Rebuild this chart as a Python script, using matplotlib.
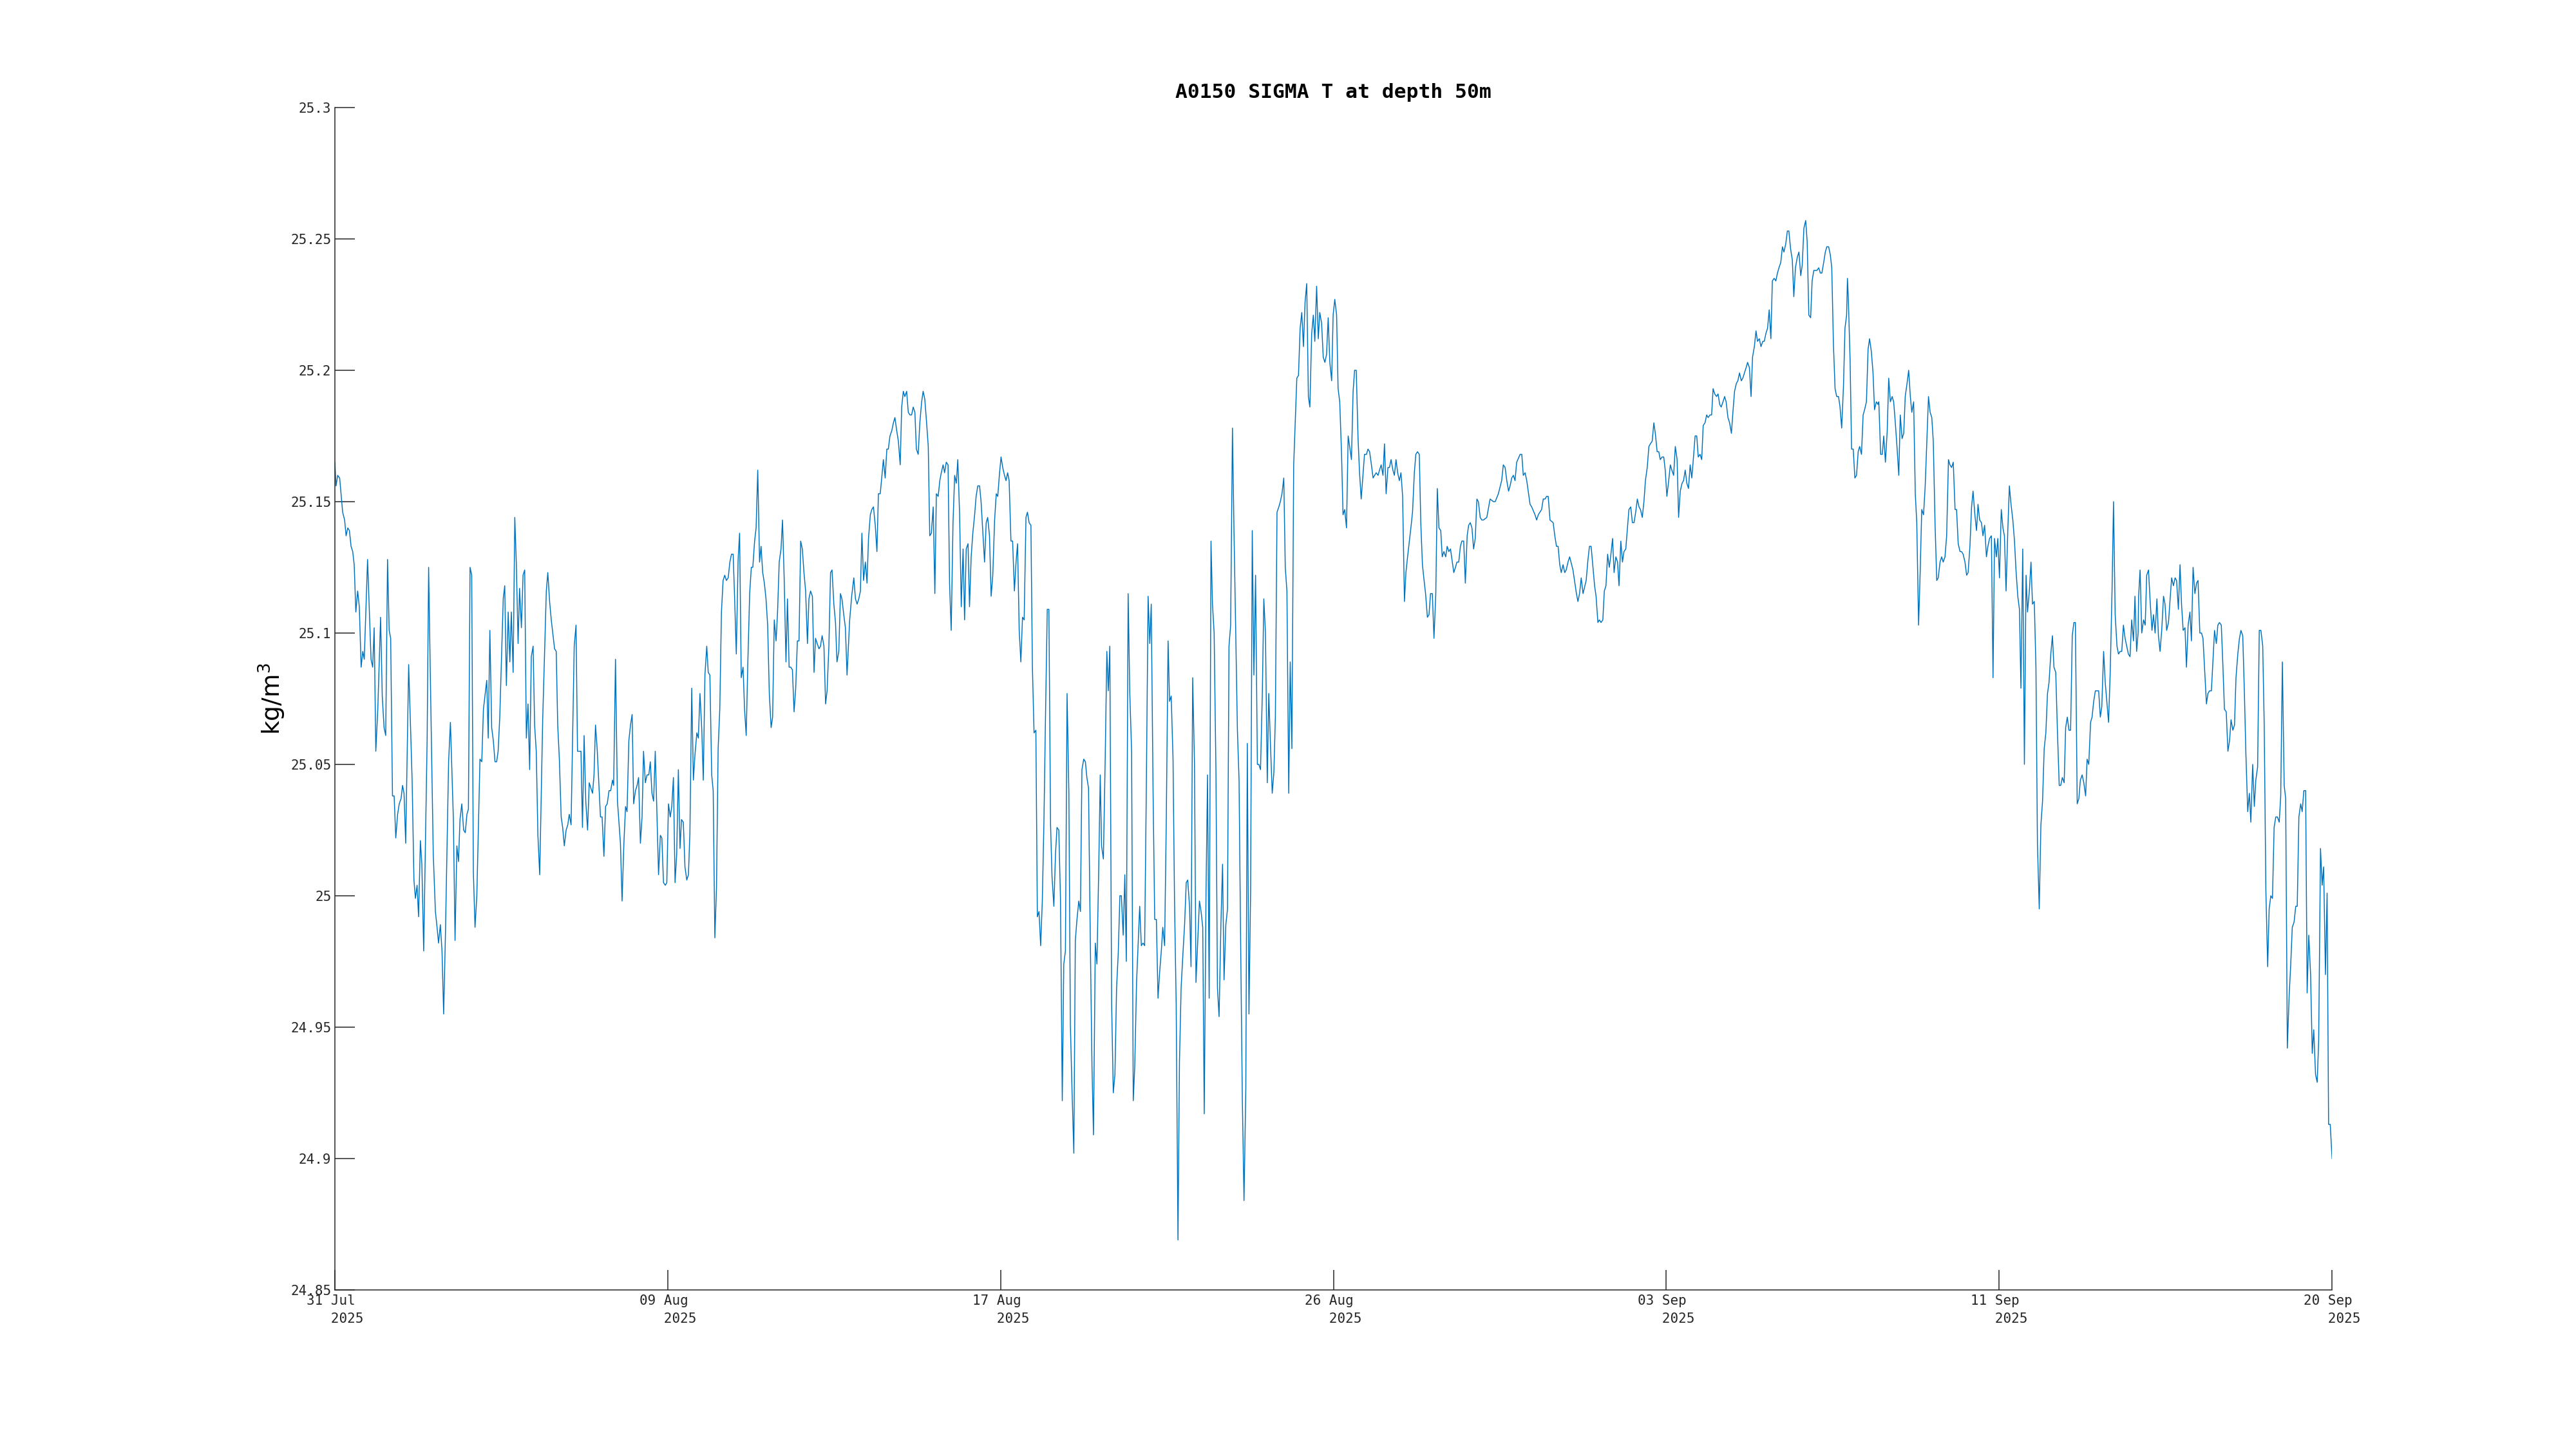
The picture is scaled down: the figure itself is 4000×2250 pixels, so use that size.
import numpy as np
import matplotlib.pyplot as plt
import matplotlib.dates as mdates
from matplotlib.ticker import FixedLocator, FixedFormatter

# sigma-t at 50 m
# (hours since the first sample, kg/m^3)
start_time = np.datetime64('2025-07-31T21:00')
record_hours = 1210

part1 = [(0.0, 25.165), (0.7, 25.156), (1.7, 25.160), (2.9, 25.159), (3.6, 25.154), (4.7, 25.146),
         (5.9, 25.143), (6.8, 25.137), (7.8, 25.140), (8.8, 25.139), (9.8, 25.133), (10.8, 25.131),
         (11.7, 25.126), (12.7, 25.108), (13.8, 25.116), (14.8, 25.110), (15.9, 25.087), (16.9, 25.093),
         (17.8, 25.090), (19.8, 25.128), (20.8, 25.110), (21.9, 25.090), (22.9, 25.087), (23.8, 25.102),
         (24.8, 25.055), (26.0, 25.071), (27.7, 25.106), (28.7, 25.076), (29.8, 25.064), (30.8, 25.061),
         (31.9, 25.128), (32.9, 25.101), (33.8, 25.098), (34.9, 25.038), (35.9, 25.038), (36.9, 25.022),
         (38.0, 25.031), (39.0, 25.035), (40.1, 25.037), (41.0, 25.042), (41.9, 25.039), (42.9, 25.020),
         (44.7, 25.088), (46.8, 25.044), (47.9, 25.006), (48.8, 24.999), (49.8, 25.004), (50.7, 24.992),
         (51.8, 25.021), (52.7, 25.012), (53.8, 24.979), (55.9, 25.060), (56.8, 25.125), (57.9, 25.081),
         (59.6, 25.016), (60.9, 24.994), (61.9, 24.988), (62.8, 24.982), (63.9, 24.989), (64.9, 24.979),
         (65.9, 24.955), (67.0, 24.986), (68.9, 25.051), (70.0, 25.066), (71.8, 25.029), (72.8, 24.983),
         (73.9, 25.019), (74.9, 25.013), (75.8, 25.029), (76.9, 25.035), (78.0, 25.025), (79.0, 25.024),
         (80.0, 25.031), (80.9, 25.033), (81.9, 25.125), (82.9, 25.122), (83.9, 25.009), (84.9, 24.988),
         (86.0, 25.000), (87.9, 25.052), (89.0, 25.051), (90.0, 25.071), (92.0, 25.082), (92.9, 25.060),
         (93.9, 25.101), (95.0, 25.064), (96.0, 25.059), (97.0, 25.051), (98.0, 25.051), (98.9, 25.055),
         (99.9, 25.068), (101.0, 25.092), (102.0, 25.113), (102.9, 25.118), (103.9, 25.080), (105.0, 25.108),
         (106.0, 25.089), (106.9, 25.108), (108.0, 25.085), (109.0, 25.144), (109.9, 25.127), (111.0, 25.096),
         (111.9, 25.117), (113.0, 25.102), (114.0, 25.122), (115.0, 25.124), (116.0, 25.060), (117.0, 25.073),
         (118.0, 25.048), (119.0, 25.091), (120.1, 25.095), (121.0, 25.065), (122.0, 25.055), (123.0, 25.023),
         (124.1, 25.008), (125.9, 25.067), (128.1, 25.116), (129.0, 25.123), (130.1, 25.112), (131.1, 25.105),
         (133.1, 25.094), (134.1, 25.093), (135.0, 25.065), (136.0, 25.052), (137.1, 25.030), (138.0, 25.026),
         (139.0, 25.019), (140.1, 25.025), (141.1, 25.027), (142.0, 25.031), (143.1, 25.027), (145.0, 25.095),
         (146.1, 25.103), (147.0, 25.055), (148.0, 25.055), (149.1, 25.055), (150.0, 25.026), (151.0, 25.061),
         (152.0, 25.036), (153.1, 25.025), (154.1, 25.043)]

part2 = [(156.1, 25.039), (157.0, 25.046), (157.9, 25.065), (158.9, 25.056), (160.9, 25.030), (161.9, 25.030),
         (163.0, 25.015), (164.0, 25.034), (165.0, 25.035), (166.1, 25.040), (167.1, 25.040), (168.2, 25.044),
         (168.9, 25.042), (170.0, 25.090), (171.2, 25.036), (173.0, 25.020), (174.0, 24.998), (175.1, 25.020),
         (176.1, 25.034), (177.0, 25.032), (178.1, 25.059), (179.1, 25.065), (180.1, 25.069), (181.0, 25.035),
         (182.1, 25.040), (183.1, 25.042), (184.0, 25.045), (185.1, 25.020), (186.1, 25.030), (187.0, 25.055),
         (188.1, 25.043), (189.1, 25.046), (190.2, 25.046), (191.1, 25.051), (192.1, 25.039), (193.1, 25.036),
         (194.1, 25.055), (195.1, 25.031), (196.1, 25.008), (197.2, 25.023), (198.1, 25.022), (199.1, 25.005),
         (200.2, 25.004), (201.1, 25.005), (202.1, 25.035), (203.2, 25.030), (204.1, 25.034), (205.1, 25.045),
         (206.1, 25.005), (207.1, 25.016), (208.1, 25.048), (209.1, 25.018), (210.0, 25.029), (211.1, 25.028),
         (212.1, 25.011), (213.2, 25.006), (214.2, 25.008), (215.1, 25.024), (216.2, 25.079), (217.2, 25.044),
         (218.2, 25.054), (219.3, 25.062), (220.2, 25.060), (221.2, 25.077), (222.3, 25.063), (223.2, 25.044),
         (224.2, 25.084), (225.3, 25.095), (226.2, 25.085), (227.2, 25.084), (228.3, 25.046), (229.2, 25.040),
         (230.2, 24.984), (231.2, 25.003), (232.2, 25.056), (233.2, 25.071), (234.2, 25.108), (235.2, 25.120),
         (236.2, 25.122), (237.2, 25.120), (238.3, 25.121), (239.3, 25.127), (240.3, 25.130), (241.3, 25.130),
         (242.2, 25.113), (243.2, 25.092), (244.3, 25.128), (245.2, 25.138), (246.2, 25.083), (247.3, 25.087),
         (248.2, 25.071), (249.2, 25.061), (250.2, 25.089), (251.3, 25.115), (252.3, 25.125), (253.2, 25.125),
         (254.3, 25.135), (255.2, 25.140), (256.2, 25.162), (257.3, 25.127), (258.2, 25.133), (259.2, 25.123),
         (260.2, 25.119), (261.2, 25.113), (262.2, 25.103), (263.2, 25.077), (264.3, 25.064), (265.2, 25.068),
         (266.2, 25.105), (267.3, 25.097), (268.2, 25.108), (269.2, 25.127), (270.3, 25.132), (271.2, 25.143),
         (272.2, 25.121), (273.3, 25.089), (274.2, 25.113), (275.2, 25.087), (276.2, 25.087), (277.2, 25.086),
         (278.2, 25.070), (279.2, 25.079), (280.2, 25.097), (281.2, 25.097), (282.2, 25.135), (283.2, 25.132),
         (284.2, 25.123), (285.2, 25.116), (286.3, 25.096), (287.2, 25.113), (288.2, 25.116), (289.3, 25.114),
         (290.3, 25.085), (291.2, 25.098), (292.2, 25.096), (293.3, 25.094), (294.2, 25.095), (295.2, 25.099),
         (296.3, 25.095), (297.3, 25.073), (298.2, 25.078), (299.3, 25.095), (300.3, 25.123), (301.2, 25.124),
         (302.3, 25.111), (303.3, 25.104), (304.2, 25.089), (305.3, 25.093), (306.3, 25.115), (307.2, 25.113),
         (308.3, 25.107), (309.3, 25.102), (310.3, 25.084), (311.9, 25.105)]

part3 = [(313.1, 25.114), (314.4, 25.121), (315.4, 25.113), (316.4, 25.111), (317.4, 25.113), (318.4, 25.116),
         (319.3, 25.138), (320.3, 25.120), (321.4, 25.127), (322.4, 25.119), (323.3, 25.136), (324.4, 25.145),
         (325.3, 25.147), (326.3, 25.148), (327.4, 25.141), (328.4, 25.131), (329.3, 25.153), (330.4, 25.153),
         (331.3, 25.159), (332.3, 25.166), (333.4, 25.159), (334.4, 25.170), (335.3, 25.170), (336.3, 25.175),
         (337.4, 25.177), (338.4, 25.180), (339.3, 25.182), (340.4, 25.177), (341.4, 25.173), (342.5, 25.164),
         (343.4, 25.186), (344.4, 25.192), (345.3, 25.190), (346.4, 25.192), (347.4, 25.184), (348.4, 25.183),
         (349.4, 25.183), (350.4, 25.186), (351.4, 25.184), (352.3, 25.170), (353.4, 25.168), (354.4, 25.180),
         (355.5, 25.188), (356.4, 25.192), (357.4, 25.189), (358.5, 25.180), (359.5, 25.171), (360.4, 25.137),
         (361.4, 25.138), (362.5, 25.148), (363.5, 25.115), (364.4, 25.153), (365.5, 25.152), (366.5, 25.158),
         (367.4, 25.161), (368.5, 25.164), (369.4, 25.161), (370.4, 25.165), (371.5, 25.164), (372.4, 25.119),
         (373.4, 25.101), (374.5, 25.142), (375.5, 25.160), (376.5, 25.157), (377.4, 25.166), (378.5, 25.145),
         (379.5, 25.110), (380.6, 25.132), (381.5, 25.105), (382.5, 25.132), (383.6, 25.134), (384.5, 25.110),
         (385.5, 25.129), (386.5, 25.138), (387.6, 25.145), (388.5, 25.152), (389.5, 25.156), (390.6, 25.156),
         (391.5, 25.150), (392.5, 25.139), (393.6, 25.127), (394.6, 25.142), (395.5, 25.144), (396.6, 25.137),
         (397.6, 25.114), (398.6, 25.122), (399.7, 25.143), (400.7, 25.153), (401.6, 25.152), (402.7, 25.161),
         (403.6, 25.167), (404.6, 25.163), (405.7, 25.160), (406.6, 25.158), (407.6, 25.161), (408.5, 25.158),
         (409.6, 25.135), (410.6, 25.135), (411.7, 25.116), (412.7, 25.127), (413.6, 25.134), (414.6, 25.101),
         (415.6, 25.089), (416.6, 25.106), (417.6, 25.105), (418.7, 25.144), (419.6, 25.146), (420.6, 25.142),
         (421.7, 25.141), (422.6, 25.087), (423.6, 25.062), (424.7, 25.063), (425.6, 24.992), (426.6, 24.994),
         (427.6, 24.981), (428.6, 24.998), (429.6, 25.029), (430.6, 25.071), (431.6, 25.109), (432.6, 25.109),
         (433.6, 25.027), (434.5, 25.007), (435.6, 24.996), (436.6, 25.016), (437.5, 25.026), (438.6, 25.025),
         (439.6, 24.999), (440.7, 24.922), (441.6, 24.974), (442.6, 24.979), (443.6, 25.077), (444.7, 25.039),
         (445.6, 24.951), (446.6, 24.926), (447.7, 24.902), (448.6, 24.983), (449.6, 24.991), (450.7, 24.998),
         (451.7, 24.994), (452.6, 25.048), (453.7, 25.052), (454.7, 25.051), (455.6, 25.045), (456.6, 25.041),
         (457.7, 24.982), (458.7, 24.935), (459.6, 24.909), (460.7, 24.982), (461.7, 24.974), (462.8, 25.011),
         (463.7, 25.046), (464.5, 25.019), (465.6, 25.014), (466.7, 25.052), (467.7, 25.093)]

part4 = [(468.6, 25.078), (469.5, 25.095), (470.6, 24.959), (471.6, 24.925), (472.6, 24.932), (473.6, 24.965),
         (474.6, 24.978), (475.6, 25.000), (476.5, 25.000), (477.6, 24.985), (478.6, 25.008), (479.5, 24.975),
         (480.6, 25.115), (481.6, 25.077), (482.7, 25.055), (483.7, 24.922), (484.6, 24.935), (485.7, 24.967),
         (487.6, 24.996), (488.6, 24.981), (489.6, 24.982), (490.6, 24.981), (491.6, 25.040), (492.7, 25.114),
         (493.7, 25.096), (494.6, 25.111), (495.7, 25.040), (496.7, 24.991), (497.7, 24.991), (498.7, 24.961),
         (499.7, 24.971), (500.7, 24.979), (501.6, 24.988), (502.7, 24.981), (503.7, 25.028), (504.8, 25.097),
         (505.7, 25.074), (506.7, 25.076), (507.8, 25.052), (508.7, 24.998), (509.7, 24.959), (510.8, 24.869),
         (511.7, 24.937), (512.7, 24.965), (513.8, 24.978), (514.8, 24.989), (515.8, 25.005), (516.7, 25.006),
         (517.8, 24.996), (518.7, 24.973), (519.7, 25.083), (520.8, 25.050), (521.7, 24.967), (522.7, 24.982),
         (523.8, 24.998), (524.8, 24.994), (525.8, 24.988), (526.7, 24.917), (527.8, 25.002), (528.7, 25.046),
         (529.7, 24.961), (530.8, 25.135), (531.7, 25.111), (532.7, 25.100), (533.8, 25.047), (534.7, 24.965),
         (535.7, 24.954), (536.8, 24.989), (537.8, 25.012), (538.7, 24.968), (539.8, 24.989), (540.8, 24.995),
         (541.7, 25.095), (542.7, 25.103), (543.8, 25.178), (544.7, 25.140), (545.7, 25.103), (546.8, 25.063),
         (547.8, 25.044), (548.7, 24.986), (549.8, 24.922), (550.8, 24.884), (551.9, 24.927), (552.8, 25.058),
         (553.8, 24.955), (554.8, 25.002), (555.8, 25.139), (556.8, 25.084), (557.8, 25.122), (558.9, 25.050),
         (559.8, 25.050), (560.8, 25.048), (561.9, 25.077), (562.8, 25.113), (563.8, 25.100), (564.9, 25.043),
         (565.8, 25.077), (566.8, 25.058), (567.9, 25.039), (568.9, 25.047), (569.8, 25.068), (570.8, 25.146),
         (571.9, 25.148), (572.8, 25.150), (573.8, 25.153), (574.9, 25.159), (575.8, 25.125), (576.8, 25.116),
         (577.9, 25.039), (578.8, 25.089), (579.8, 25.056), (580.9, 25.164), (581.9, 25.181), (582.8, 25.197),
         (583.8, 25.198), (584.8, 25.216), (585.8, 25.222), (586.8, 25.209), (587.8, 25.226), (588.8, 25.233),
         (589.8, 25.190), (590.7, 25.186), (591.8, 25.214), (592.8, 25.221), (593.7, 25.211), (594.8, 25.232),
         (595.8, 25.212), (596.7, 25.222), (597.8, 25.218), (598.8, 25.205), (599.8, 25.203), (600.8, 25.206),
         (601.8, 25.220), (602.8, 25.203), (603.9, 25.196), (604.8, 25.221), (605.8, 25.227), (606.9, 25.221),
         (607.8, 25.193), (608.8, 25.188), (609.9, 25.168), (610.8, 25.145), (611.8, 25.147), (612.9, 25.140),
         (613.9, 25.175), (615.9, 25.166), (616.9, 25.192), (617.8, 25.200), (618.8, 25.200), (619.9, 25.174),
         (620.8, 25.161), (621.8, 25.151), (623.8, 25.168)]

part5 = [(625.0, 25.168), (625.9, 25.170), (626.9, 25.169), (628.0, 25.164), (629.0, 25.159), (629.9, 25.160),
         (630.9, 25.161), (632.0, 25.160), (632.9, 25.162), (633.9, 25.164), (635.0, 25.160), (635.9, 25.172),
         (636.9, 25.153), (638.0, 25.163), (638.9, 25.163), (639.9, 25.166), (641.0, 25.162), (641.9, 25.160),
         (642.9, 25.166), (643.9, 25.161), (644.9, 25.158), (645.9, 25.161), (646.9, 25.152), (648.0, 25.112),
         (648.9, 25.123), (649.9, 25.129), (651.0, 25.135), (651.9, 25.140), (652.9, 25.146), (654.0, 25.161),
         (654.9, 25.168), (655.9, 25.169), (657.0, 25.168), (657.9, 25.142), (658.9, 25.126), (659.9, 25.120),
         (660.8, 25.115), (661.9, 25.106), (662.9, 25.107), (663.8, 25.115), (664.9, 25.115), (665.9, 25.098),
         (667.0, 25.115), (667.9, 25.155), (668.9, 25.140), (670.0, 25.139), (670.9, 25.129), (671.9, 25.131),
         (673.0, 25.129), (673.9, 25.133), (674.9, 25.131), (675.9, 25.132), (676.8, 25.128), (677.9, 25.123),
         (678.9, 25.125), (679.8, 25.127), (680.9, 25.127), (681.9, 25.133), (682.8, 25.135), (683.9, 25.135),
         (684.9, 25.119), (686.0, 25.137), (686.9, 25.141), (687.9, 25.142), (688.9, 25.140), (689.9, 25.132),
         (690.9, 25.136), (691.9, 25.151), (692.8, 25.150), (693.9, 25.144), (694.9, 25.143), (695.8, 25.143),
         (697.9, 25.144), (699.9, 25.151), (701.9, 25.150), (703.0, 25.150), (704.9, 25.153), (706.9, 25.158),
         (707.9, 25.164), (709.0, 25.163), (710.0, 25.158), (711.1, 25.154), (712.0, 25.156), (713.0, 25.159),
         (714.0, 25.160), (715.0, 25.158), (716.0, 25.165), (718.1, 25.168), (719.1, 25.168), (720.0, 25.160),
         (721.1, 25.161), (722.1, 25.158), (723.0, 25.154), (724.1, 25.149), (725.1, 25.148), (727.1, 25.145),
         (728.1, 25.143), (729.1, 25.145), (731.1, 25.147), (732.1, 25.151), (733.2, 25.151), (734.1, 25.152),
         (735.1, 25.152), (736.2, 25.143), (738.1, 25.142), (739.1, 25.137), (740.1, 25.133), (741.1, 25.133),
         (742.1, 25.126), (743.0, 25.123), (744.1, 25.126), (745.1, 25.123), (746.0, 25.124), (747.1, 25.127),
         (748.1, 25.129), (750.1, 25.124), (752.2, 25.115), (753.1, 25.112), (754.1, 25.115), (755.1, 25.121),
         (756.2, 25.115), (758.1, 25.120), (759.2, 25.128), (760.1, 25.133), (761.1, 25.133), (763.2, 25.118),
         (764.1, 25.114), (765.2, 25.104), (766.1, 25.105), (767.1, 25.104), (768.2, 25.105), (769.1, 25.116),
         (770.1, 25.118), (771.1, 25.130), (772.1, 25.125), (773.1, 25.130), (774.1, 25.136), (775.0, 25.123),
         (776.1, 25.129), (777.1, 25.127), (778.0, 25.118), (779.1, 25.135), (780.1, 25.127)]

part6 = [(781.0, 25.131), (782.1, 25.132), (783.1, 25.140), (784.0, 25.147), (785.1, 25.148), (786.1, 25.142),
         (787.1, 25.142), (788.1, 25.146), (789.1, 25.151), (790.1, 25.148), (791.0, 25.147), (792.1, 25.144),
         (793.1, 25.150), (794.0, 25.158), (795.1, 25.163), (796.1, 25.171), (797.0, 25.172), (798.1, 25.173),
         (799.1, 25.180), (800.0, 25.176), (801.1, 25.169), (802.1, 25.169), (803.0, 25.166), (804.1, 25.167),
         (805.1, 25.167), (806.0, 25.162), (807.0, 25.152), (808.1, 25.158), (809.1, 25.164), (810.0, 25.162),
         (811.1, 25.160), (812.1, 25.171), (813.2, 25.166), (814.1, 25.144), (815.1, 25.154), (816.2, 25.157),
         (817.1, 25.158), (818.1, 25.162), (819.1, 25.157), (820.1, 25.155), (821.1, 25.164), (822.1, 25.159),
         (823.0, 25.166), (824.1, 25.175), (825.1, 25.175), (826.0, 25.167), (827.1, 25.168), (828.1, 25.166),
         (829.0, 25.179), (830.1, 25.180), (831.1, 25.183), (832.0, 25.182), (833.1, 25.183), (834.1, 25.183),
         (835.0, 25.193), (836.0, 25.191), (837.1, 25.190), (838.0, 25.191), (839.0, 25.187), (839.9, 25.186),
         (841.0, 25.188), (842.0, 25.190), (842.9, 25.188), (844.0, 25.182), (845.0, 25.180), (846.1, 25.176),
         (847.0, 25.184), (848.0, 25.192), (849.1, 25.195), (850.0, 25.196), (851.0, 25.199), (852.1, 25.196),
         (853.0, 25.197), (854.0, 25.199), (855.0, 25.201), (855.9, 25.203), (857.0, 25.201), (858.0, 25.190),
         (858.9, 25.205), (860.0, 25.209), (861.0, 25.215), (861.9, 25.211), (863.0, 25.212), (864.0, 25.209),
         (865.1, 25.211), (866.0, 25.211), (867.0, 25.214), (868.0, 25.216), (869.0, 25.223), (870.0, 25.212),
         (870.9, 25.234), (872.0, 25.235), (873.0, 25.234), (874.0, 25.237), (874.9, 25.239), (876.0, 25.241),
         (877.0, 25.247), (877.9, 25.245), (879.0, 25.248), (880.0, 25.253), (880.9, 25.253), (882.0, 25.246),
         (883.0, 25.242), (883.9, 25.228), (884.9, 25.239), (886.0, 25.243), (887.0, 25.245), (888.1, 25.236),
         (889.0, 25.240), (890.0, 25.254), (891.1, 25.257), (892.0, 25.249), (893.0, 25.221), (894.1, 25.220),
         (895.0, 25.234), (896.0, 25.238), (897.0, 25.238), (897.9, 25.238), (899.0, 25.239), (900.0, 25.237),
         (900.9, 25.237), (902.0, 25.241), (903.0, 25.245), (903.9, 25.247), (905.0, 25.247), (906.0, 25.244),
         (906.9, 25.239), (907.9, 25.210), (908.9, 25.193), (909.9, 25.190), (911.0, 25.190), (911.9, 25.186),
         (912.9, 25.178), (914.0, 25.194), (914.9, 25.216), (915.9, 25.221), (916.4, 25.235), (916.9, 25.228),
         (918.0, 25.204), (918.9, 25.170), (919.9, 25.170), (920.9, 25.159), (921.9, 25.160), (922.9, 25.169),
         (923.8, 25.171), (924.9, 25.168), (925.9, 25.183), (926.8, 25.185), (927.9, 25.188), (928.9, 25.208),
         (929.8, 25.212), (930.9, 25.207), (931.9, 25.199), (932.8, 25.185), (933.9, 25.188), (934.9, 25.187),
         (935.4, 25.188), (936.5, 25.168)]

part7 = [(937.5, 25.168), (938.4, 25.175), (939.4, 25.165), (940.5, 25.177), (941.4, 25.197), (942.4, 25.188),
         (943.5, 25.190), (944.4, 25.188), (945.4, 25.180), (946.5, 25.170), (947.5, 25.160), (948.4, 25.183),
         (949.5, 25.174), (950.5, 25.176), (951.4, 25.190), (952.5, 25.195), (953.5, 25.200), (954.5, 25.190),
         (955.4, 25.184), (956.5, 25.188), (957.5, 25.153), (958.4, 25.142), (959.5, 25.103), (960.5, 25.124),
         (961.4, 25.147), (962.5, 25.145), (963.5, 25.156), (964.5, 25.173), (965.5, 25.190), (966.5, 25.184),
         (967.5, 25.182), (968.4, 25.173), (969.5, 25.141), (970.5, 25.120), (971.4, 25.121), (972.5, 25.127),
         (973.5, 25.129), (974.4, 25.127), (975.5, 25.129), (976.5, 25.137), (977.6, 25.166), (978.5, 25.164),
         (979.5, 25.163), (980.5, 25.165), (981.6, 25.147), (982.5, 25.147), (983.5, 25.134), (984.6, 25.131),
         (985.5, 25.131), (986.5, 25.130), (987.6, 25.127), (988.6, 25.122), (989.5, 25.123), (990.6, 25.133),
         (991.6, 25.148), (992.5, 25.154), (993.6, 25.145), (994.6, 25.139), (995.5, 25.149), (996.5, 25.143),
         (997.6, 25.142), (998.5, 25.137), (999.5, 25.141), (1000.6, 25.129), (1001.5, 25.133), (1002.5, 25.136),
         (1003.6, 25.137), (1004.6, 25.083), (1005.5, 25.136), (1006.6, 25.129), (1007.5, 25.136), (1008.5, 25.121),
         (1009.6, 25.147), (1010.6, 25.140), (1011.5, 25.137), (1012.5, 25.116), (1013.6, 25.140), (1014.5, 25.156),
         (1015.5, 25.149), (1016.6, 25.143), (1017.6, 25.135), (1018.5, 25.124), (1019.6, 25.114), (1020.6, 25.109),
         (1021.5, 25.079), (1022.6, 25.132), (1023.6, 25.050), (1024.6, 25.122), (1025.5, 25.108), (1026.6, 25.116),
         (1027.6, 25.127), (1028.5, 25.111), (1029.6, 25.112), (1030.6, 25.087), (1031.5, 25.020), (1032.6, 24.995),
         (1033.6, 25.027), (1034.6, 25.036), (1035.6, 25.056), (1036.6, 25.062), (1037.6, 25.077), (1038.5, 25.081),
         (1039.6, 25.092), (1040.6, 25.099), (1041.5, 25.087), (1042.6, 25.085), (1043.6, 25.063), (1044.7, 25.042),
         (1045.6, 25.042), (1046.6, 25.045), (1047.7, 25.043), (1048.6, 25.064), (1049.6, 25.068), (1050.6, 25.063),
         (1051.6, 25.063), (1052.6, 25.099), (1053.6, 25.104), (1054.5, 25.104), (1055.6, 25.035), (1056.6, 25.037),
         (1057.5, 25.044), (1058.6, 25.046), (1059.6, 25.043), (1060.7, 25.038), (1061.6, 25.052), (1062.6, 25.050),
         (1063.7, 25.066), (1064.6, 25.068), (1065.6, 25.074), (1066.6, 25.078), (1068.6, 25.078), (1069.6, 25.068),
         (1070.5, 25.072), (1071.6, 25.093), (1072.6, 25.081), (1074.6, 25.066), (1075.6, 25.085), (1076.7, 25.116),
         (1077.6, 25.150), (1078.6, 25.107), (1079.7, 25.095), (1080.6, 25.092), (1081.6, 25.093), (1082.6, 25.093),
         (1083.6, 25.103), (1084.6, 25.098), (1086.6, 25.092), (1087.6, 25.091), (1088.6, 25.105), (1089.7, 25.097),
         (1090.6, 25.114), (1091.6, 25.093), (1092.5, 25.100)]

part8 = [(1092.8, 25.114), (1093.7, 25.124), (1094.7, 25.100), (1095.8, 25.105), (1096.8, 25.103), (1097.7, 25.122),
         (1098.8, 25.124), (1099.8, 25.112), (1100.9, 25.101), (1101.8, 25.107), (1102.8, 25.100), (1103.9, 25.113),
         (1104.8, 25.099), (1105.8, 25.093), (1106.8, 25.101), (1107.9, 25.114), (1108.8, 25.111), (1109.8, 25.101),
         (1110.9, 25.104), (1111.8, 25.112), (1112.8, 25.121), (1113.9, 25.118), (1114.9, 25.121), (1115.8, 25.120),
         (1116.9, 25.109), (1117.9, 25.126), (1118.8, 25.111), (1119.8, 25.101), (1120.9, 25.102), (1121.8, 25.087),
         (1122.8, 25.103), (1123.9, 25.108), (1124.8, 25.097), (1125.8, 25.125), (1126.9, 25.115), (1127.9, 25.119),
         (1128.8, 25.120), (1129.9, 25.100), (1130.9, 25.100), (1131.8, 25.098), (1132.9, 25.085), (1133.9, 25.073),
         (1134.8, 25.077), (1135.8, 25.078), (1136.9, 25.078), (1137.8, 25.089), (1138.8, 25.101), (1139.9, 25.096),
         (1140.8, 25.103), (1141.8, 25.104), (1142.9, 25.103), (1143.9, 25.087), (1144.8, 25.071), (1145.9, 25.070),
         (1146.9, 25.055), (1147.9, 25.059), (1148.8, 25.067), (1149.9, 25.063), (1150.9, 25.065), (1151.8, 25.083),
         (1152.9, 25.092), (1153.9, 25.098), (1154.8, 25.101), (1155.9, 25.099), (1156.9, 25.077), (1157.8, 25.054),
         (1158.9, 25.032), (1159.9, 25.039), (1160.8, 25.028), (1161.9, 25.050), (1162.9, 25.034), (1163.8, 25.044),
         (1164.9, 25.049), (1165.9, 25.101), (1166.9, 25.101), (1168.0, 25.095), (1168.9, 25.065), (1169.9, 25.002),
         (1171.0, 24.973), (1171.9, 24.995), (1172.9, 25.000), (1173.9, 24.999), (1174.9, 25.026), (1175.9, 25.030),
         (1176.9, 25.030), (1178.0, 25.028), (1178.9, 25.038), (1179.9, 25.089), (1181.0, 25.042), (1181.9, 25.037),
         (1182.9, 24.942), (1184.0, 24.962), (1184.9, 24.973), (1185.9, 24.988), (1187.0, 24.990), (1188.0, 24.996),
         (1188.9, 24.996), (1189.9, 25.030), (1191.0, 25.035), (1191.9, 25.032), (1192.9, 25.040), (1194.0, 25.040),
         (1194.9, 24.963), (1195.9, 24.985), (1197.0, 24.970), (1198.0, 24.940), (1198.9, 24.949), (1200.0, 24.932),
         (1201.0, 24.929), (1201.9, 24.945), (1203.0, 25.018), (1204.0, 25.004), (1204.9, 25.011), (1206.0, 24.970),
         (1207.0, 25.001), (1207.9, 24.913), (1208.9, 24.913), (1210.0, 24.900)]

ytick_values = [24.85, 24.9, 24.95, 25.0, 25.05, 25.1, 25.15, 25.2, 25.25, 25.3]

title = 'A0150 SIGMA T at depth 50m'

# put the pieces together
hours = []
sigma_t = []
for part in [part1, part2, part3, part4, part5, part6, part7, part8]:
    for h, v in part:
        hours.append(h)
        sigma_t.append(v)

times = start_time + (np.array(hours) * 3600).astype('timedelta64[s]')
end_time = start_time + np.timedelta64(record_hours * 3600, 's')

axis_col = '#262626'
mono = 'DejaVu Sans Mono'

fig = plt.figure(figsize=(40, 22.5), dpi=100)
ax = fig.add_axes([0.13, 0.1098, 0.7753, 0.816])

ax.plot(times, sigma_t, color='#0072BD', linewidth=1.05)

ax.set_xlim(start_time, end_time)
ax.set_ylim(24.85, 25.3)

# MATLAB-like axes: only left/bottom, inward ticks
for side in ['top', 'right']:
    ax.spines[side].set_visible(False)
for side in ['left', 'bottom']:
    ax.spines[side].set_color(axis_col)
    ax.spines[side].set_linewidth(1.1)

x0 = mdates.date2num(start_time)
x1 = mdates.date2num(end_time)
ax.xaxis.set_major_locator(FixedLocator(np.linspace(x0, x1, 7)))
ax.xaxis.set_major_formatter(mdates.DateFormatter('%d %b\n   %Y'))

ax.yaxis.set_major_locator(FixedLocator(ytick_values))
ax.yaxis.set_major_formatter(FixedFormatter([f'{v:g}' for v in ytick_values]))

ax.tick_params(axis='both', direction='in', length=22, width=1.1, color=axis_col,
               labelcolor=axis_col, labelsize=15)
ax.tick_params(axis='x', pad=5)
ax.tick_params(axis='y', pad=4)

for lbl in ax.get_xticklabels() + ax.get_yticklabels():
    lbl.set_family(mono)
for lbl in ax.get_xticklabels():
    lbl.set_multialignment('left')
    lbl.set_linespacing(1.5)

ax.set_title(title, fontsize=22.5, fontweight='bold', family=mono, color='black', pad=11)
ax.set_ylabel(r'kg/m$^3$', fontsize=27, color='black')
ax.yaxis.set_label_coords(-0.024, 0.5)

plt.savefig('out.png', dpi=100)
